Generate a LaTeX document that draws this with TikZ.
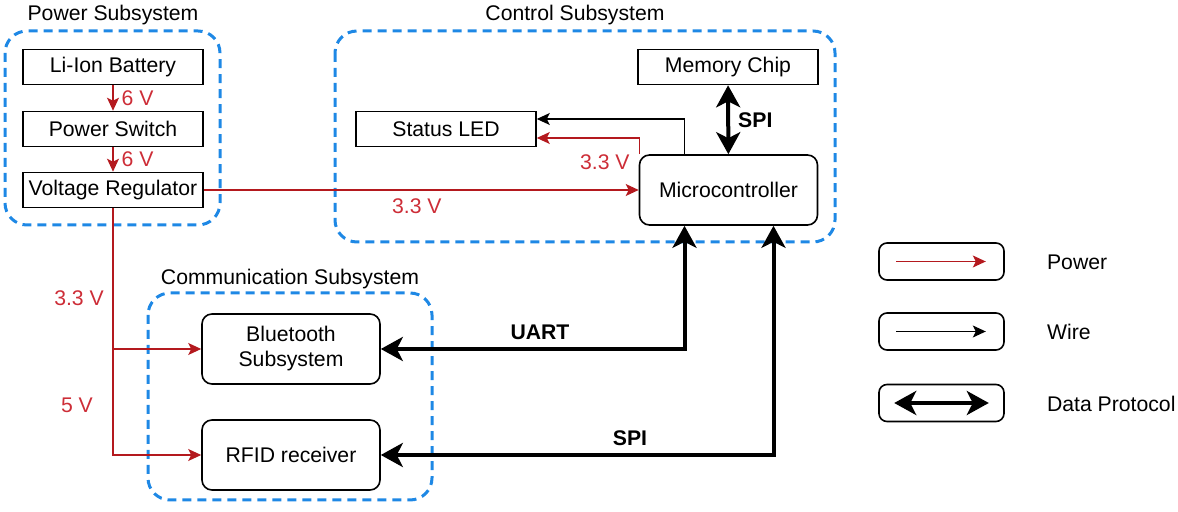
\documentclass[tikz,border=0pt]{standalone}
\usepackage{fontspec}
\setmainfont{Liberation Sans}
\usetikzlibrary{arrows.meta,positioning}

\definecolor{grpblue}{RGB}{30,136,229}
\definecolor{pwrred}{RGB}{180,25,30}
\definecolor{lblred}{RGB}{205,45,55}

\begin{document}
\begin{tikzpicture}[x=0.5pt, y=-0.5pt,
        font=\fontsize{10.6}{12.5}\selectfont,
        group/.style={draw=grpblue, line width=1.5pt, dash pattern=on 4.5pt off 3pt, rounded corners=11pt},
        grouptitle/.style={inner sep=0pt},
        block/.style={draw, line width=0.8pt, minimum width=90pt, minimum height=17.5pt, inner sep=1pt},
        unit/.style={draw, line width=0.8pt, rounded corners=5pt, minimum width=89pt, minimum height=35pt, align=center, inner sep=1pt},
        legbox/.style={draw, line width=0.8pt, rounded corners=4pt, minimum width=62.5pt, minimum height=18.5pt},
        pwr/.style={draw=pwrred, line width=0.6pt, -{Stealth[length=6.5pt,width=6pt,inset=1.5pt]}},
        wire/.style={draw, line width=0.6pt, -{Stealth[length=6.5pt,width=6pt,inset=1.5pt]}},
        data/.style={draw, line width=2pt, {Stealth[length=11pt,width=12pt,inset=3pt]}-{Stealth[length=11pt,width=12pt,inset=3pt]}},
        volt/.style={text=lblred, inner sep=1pt},
        proto/.style={font=\fontsize{10.6}{12.5}\selectfont\bfseries, inner sep=1pt}]

        \useasboundingbox (0,0) rectangle (1178,512);

        % Power subsystem
        \draw[group] (5,31) rectangle (220,225);
        \node[grouptitle] (powertitle) at (113,15) {Power Subsystem};
        \node[block] (battery) at (113,67) {Li-Ion Battery};
        \node[block] (switch) at (113,129) {Power Switch};
        \node[block] (regulator) at (113,190) {Voltage Regulator};
        \draw[pwr] (battery) -- (switch) node[volt, midway, right, xshift=3pt] (v1) {6 V};
        \draw[pwr] (switch) -- (regulator) node[volt, midway, right, xshift=3pt] (v2) {6 V};

        % Control subsystem
        \draw[group] (335,31) rectangle (835,242);
        \node[grouptitle] (ctrltitle) at (575,15) {Control Subsystem};
        \node[block] (memory) at (728,67) {Memory Chip};
        \node[block] (led) at (446,129) {Status LED};
        \node[unit] (mcu) at (728.5,190) {Microcontroller};
        \draw[data] (memory) -- (mcu) node[proto, midway, right, xshift=3pt] (spitop) {SPI};
        \draw[wire] ([xshift=-22pt]mcu.north) |- ([yshift=5pt]led.east);
        \draw[pwr] ([xshift=0.5pt]mcu.north west) |- ([yshift=-4.5pt]led.east);
        \node[volt, anchor=east] (vled) at (632,162) {3.3 V};
        \draw[pwr] (regulator) -- (mcu) node[volt, pos=0.49, below, yshift=-3pt] (vmcu) {3.3 V};

        % Communication subsystem
        \draw[group] (148,293) rectangle (432,500);
        \node[grouptitle] (commtitle) at (290,279) {Communication Subsystem};
        \node[unit] (bt) at (291,349) {Bluetooth\\Subsystem};
        \node[unit] (rfid) at (291,455) {RFID receiver};
        \draw[pwr] (regulator.south) |- (bt.west);
        \draw[pwr] (regulator.south) |- (rfid.west);
        \node[volt] (vbt) at (79,298) {3.3 V};
        \node[volt] (vrfid) at (77,405) {5 V};

        % data links to the microcontroller
        \draw[data] (bt.east) -| ([xshift=-22pt]mcu.south);
        \draw[data] (rfid.east) -| ([xshift=22.5pt]mcu.south);
        \node[proto] (uart) at (540,332) {UART};
        \node[proto] (spibot) at (630,438) {SPI};

        % Legend
        \node[legbox] (legpwr) at (941.5,261.5) {};
        \node[legbox] (legwire) at (941.5,331.5) {};
        \node[legbox] (legdata) at (941.5,403) {};
        \draw[pwr] ([xshift=9pt]legpwr.west) -- ([xshift=-9.5pt]legpwr.east);
        \draw[wire] ([xshift=9pt]legwire.west) -- ([xshift=-9.5pt]legwire.east);
        \draw[data] ([xshift=8pt]legdata.west) -- ([xshift=-8pt]legdata.east);
        \node[anchor=west] (legpwrtext) at (1040,262) {Power};
        \node[anchor=west] (legwiretext) at (1040,332) {Wire};
        \node[anchor=west] (legdatatext) at (1040,404) {Data Protocol};
    \end{tikzpicture}
\end{document}
